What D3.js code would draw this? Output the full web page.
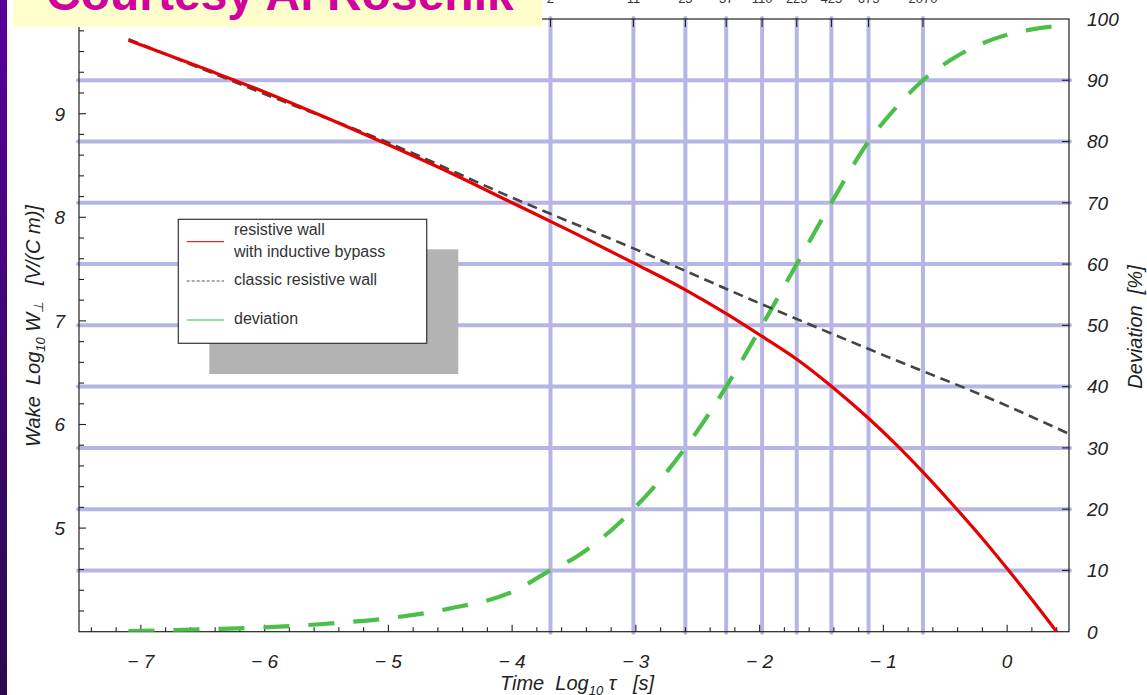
<!DOCTYPE html>
<html>
<head>
<meta charset="utf-8">
<script src="https://cdn.jsdelivr.net/npm/d3@7"></script>
<style>
  html, body { margin: 0; padding: 0; background: #fff; }
  svg { display: block; }
  text { font-family: "Liberation Sans", Arial, sans-serif; }
</style>
</head>
<body>
<svg id="chart" width="1147" height="695"></svg>
<script>
// ---- data -------------------------------------------------------------
// resistive wall with inductive bypass: log10 tau [s] vs log10 W [V/(C m)]
const bypassTau  = [-7.1, -6.5, -6.0, -5.5, -5.0, -4.5, -4.0, -3.5, -3.02, -2.6, -2.27, -1.98, -1.7, -1.42, -1.12, -0.9, -0.68, -0.45, -0.2, 0.0, 0.2, 0.4];
const bypassWake = [9.71, 9.44, 9.21, 8.96, 8.70, 8.43, 8.14, 7.85, 7.56, 7.30, 7.07, 6.85, 6.63, 6.37, 6.06, 5.81, 5.54, 5.24, 4.90, 4.61, 4.31, 4.0];

// classic resistive wall
const classicTau  = [-7.1, -6.0, -5.0, -4.0, -3.0, -2.0, -1.0, 0.0, 0.5];
const classicWake = [9.72, 9.19, 8.72, 8.19, 7.69, 7.17, 6.67, 6.18, 5.91];

// deviation between the two [%]
const devTau = [-7.1, -6.5, -6.0, -5.5, -5.0, -4.5, -4.0, -3.69, -3.5, -3.02, -2.6, -2.27, -1.98, -1.7, -1.42, -1.12, -0.9, -0.68, -0.4, -0.1, 0.2, 0.5];
const devPct = [0.1, 0.4, 0.7, 1.3, 2.2, 3.8, 6.5, 10, 12, 20, 30, 40, 50, 60, 70, 80, 85.5, 90, 94, 96.8, 98.3, 99.0];

// vertical grid: times where the deviation reaches 10 % ... 90 %
const gridTau    = [-3.69, -3.02, -2.60, -2.27, -1.98, -1.70, -1.42, -1.12, -0.68];
const gridTopLbl = ["2", "11", "25", "37", "110", "225", "425", "675", "2070"];
// horizontal grid on the deviation axis
const gridDev = [10, 20, 30, 40, 50, 60, 70, 80, 90];

const xTicksMajor = [-7, -6, -5, -4, -3, -2, -1, 0];
const yTicksMajor = [5, 6, 7, 8, 9];
const devTicks    = [0, 10, 20, 30, 40, 50, 60, 70, 80, 90, 100];

const legendItems = [
  { lines: ["resistive wall", "with inductive bypass"], color: "#e8282a", dash: null },
  { lines: ["classic resistive wall"], color: "#555", dash: "3,2" },
  { lines: ["deviation"], color: "#3cc23c", dash: null }
];

// ---- layout -----------------------------------------------------------
const L = 79, R = 1069, T = 19, B = 631.7;
const svg = d3.select("#chart");

const x = d3.scaleLinear().domain([-7.5, 0.5]).range([L, R]);
const y = d3.scaleLinear().domain([4, 4 + (B - T) / 103.6]).range([B, T]);
const yDev = d3.scaleLinear().domain([0, 100]).range([B, T]);

// left side band
const defs = svg.append("defs");
const grad = defs.append("linearGradient").attr("id", "band").attr("x1", 0).attr("y1", 0).attr("x2", 0).attr("y2", 1);
grad.append("stop").attr("offset", "0%").attr("stop-color", "#58009a");
grad.append("stop").attr("offset", "100%").attr("stop-color", "#2a0a4c");
svg.append("rect").attr("x", 0).attr("y", 0).attr("width", 7).attr("height", 695).attr("fill", "url(#band)");

defs.append("clipPath").attr("id", "plotClip")
  .append("rect").attr("x", L).attr("y", T).attr("width", R - L).attr("height", B - T);

// ---- grid -------------------------------------------------------------
const gridColor = "#b6b6e6";
svg.append("g").selectAll("line").data(gridTau).join("line")
  .attr("x1", d => x(d)).attr("x2", d => x(d))
  .attr("y1", T - 1).attr("y2", B + 1)
  .attr("stroke", gridColor).attr("stroke-width", 4).attr("stroke-linecap", "round");
svg.append("g").selectAll("line").data(gridDev).join("line")
  .attr("x1", L - 1).attr("x2", R + 1)
  .attr("y1", d => yDev(d)).attr("y2", d => yDev(d))
  .attr("stroke", gridColor).attr("stroke-width", 4).attr("stroke-linecap", "round");

// ---- frame & ticks ----------------------------------------------------
const ink = "#222";
svg.append("rect").attr("x", L).attr("y", T).attr("width", R - L).attr("height", B - T)
  .attr("fill", "none").attr("stroke", ink).attr("stroke-width", 1.2);

const minorX = d3.range(-37, 3).map(i => i / 5);
const minorY = d3.range(20, 50).map(i => i / 5);
const ticks = svg.append("g").attr("stroke", ink).attr("stroke-width", 1.1);
ticks.selectAll(".bx").data(minorX).join("line")
  .attr("x1", d => x(d)).attr("x2", d => x(d))
  .attr("y1", B).attr("y2", d => B - (Math.abs(d - Math.round(d)) < 1e-6 ? 7 : 4.5));
ticks.selectAll(".ly").data(minorY.filter(d => d > 4.01)).join("line")
  .attr("y1", d => y(d)).attr("y2", d => y(d))
  .attr("x1", L).attr("x2", d => L + (Math.abs(d - Math.round(d)) < 1e-6 ? 7 : 5));
ticks.selectAll(".tx").data(gridTau).join("line")
  .attr("x1", d => x(d)).attr("x2", d => x(d))
  .attr("y1", T).attr("y2", T + 8);
ticks.selectAll(".ry").data(gridDev).join("line")
  .attr("y1", d => yDev(d)).attr("y2", d => yDev(d))
  .attr("x1", R).attr("x2", R - 7);

// tick labels
const lblFont = 19;
svg.append("g").selectAll("text").data(xTicksMajor).join("text")
  .attr("x", d => x(d)).attr("y", 668)
  .attr("text-anchor", "middle").attr("font-size", lblFont).attr("font-style", "italic").attr("fill", ink)
  .text(d => d < 0 ? "\u2212 " + Math.abs(d) : String(d));
svg.append("g").selectAll("text").data(yTicksMajor).join("text")
  .attr("x", 65).attr("y", d => y(d)).attr("dy", "0.36em")
  .attr("text-anchor", "end").attr("font-size", lblFont).attr("font-style", "italic").attr("fill", ink)
  .text(d => d);
svg.append("g").selectAll("text").data(devTicks).join("text")
  .attr("x", 1087).attr("y", d => yDev(d)).attr("dy", "0.36em")
  .attr("font-size", lblFont).attr("font-style", "italic").attr("fill", ink)
  .text(d => d);

// labels above the grid columns (they run off the top of the page)
svg.append("g").selectAll("text").data(gridTau).join("text")
  .attr("x", d => x(d)).attr("y", 3)
  .attr("text-anchor", "middle").attr("font-size", 13).attr("fill", "#333")
  .text((d, i) => gridTopLbl[i]);

// ---- curves -----------------------------------------------------------
const plot = svg.append("g").attr("clip-path", "url(#plotClip)");
const mk = (xs, ys, ys2) => xs.map((t, i) => [x(t), ys2(ys[i])]);
const line = d3.line().curve(d3.curveMonotoneX);

plot.append("path").attr("d", line(mk(devTau, devPct, yDev)))
  .attr("fill", "none").attr("stroke", "#4cbf4a").attr("stroke-width", 4.2)
  .attr("stroke-dasharray", "26,19");
plot.append("path").attr("d", line(mk(classicTau, classicWake, y)))
  .attr("fill", "none").attr("stroke", "#444").attr("stroke-width", 2.6)
  .attr("stroke-dasharray", "10,6");
plot.append("path").attr("d", line(mk(bypassTau, bypassWake, y)))
  .attr("fill", "none").attr("stroke", "#e60000").attr("stroke-width", 3.2);

// ---- legend -----------------------------------------------------------
const lg = svg.append("g");
lg.append("rect").attr("x", 209.3).attr("y", 249.3).attr("width", 249).attr("height", 124.7).attr("fill", "#b3b3b3");
lg.append("rect").attr("x", 178.3).attr("y", 219.3).attr("width", 248.4).attr("height", 124)
  .attr("fill", "#fff").attr("stroke", "#333").attr("stroke-width", 1.2);
const rowY = [235, 285, 324];
legendItems.forEach((it, i) => {
  const by = rowY[i];
  lg.append("line").attr("x1", 186.7).attr("x2", 224).attr("y1", by + (i === 0 ? 6.7 : -4)).attr("y2", by + (i === 0 ? 6.7 : -4))
    .attr("stroke", it.color).attr("stroke-width", 1.2).attr("stroke-dasharray", it.dash);
  it.lines.forEach((s, j) => {
    lg.append("text").attr("x", 234).attr("y", by + j * 21.7)
      .attr("font-size", 16).attr("fill", "#333").text(s);
  });
});

// ---- axis titles ------------------------------------------------------
const tf = 20;
const bt = svg.append("text").attr("x", 577).attr("y", 690).attr("text-anchor", "middle")
  .attr("font-size", tf).attr("font-style", "italic").attr("fill", ink).attr("xml:space", "preserve");
bt.append("tspan").text("Time  Log");
bt.append("tspan").attr("font-size", 13).attr("dy", 5).text("10");
bt.append("tspan").attr("dy", -5).text(" \u03c4   [s]");

const lt = svg.append("text").attr("transform", "translate(40,326) rotate(-90)").attr("text-anchor", "middle")
  .attr("font-size", tf).attr("font-style", "italic").attr("fill", ink).attr("xml:space", "preserve");
lt.append("tspan").text("Wake  Log");
lt.append("tspan").attr("font-size", 13).attr("dy", 5).text("10");
lt.append("tspan").attr("dy", -5).text(" W");
lt.append("tspan").attr("font-size", 13).attr("dy", 3).text("\u22a5");
lt.append("tspan").attr("dy", -3).text("   [V/(C m)]");

svg.append("text").attr("transform", "translate(1142,327) rotate(-90)").attr("text-anchor", "middle")
  .attr("font-size", tf).attr("font-style", "italic").attr("fill", ink).attr("xml:space", "preserve")
  .text("Deviation  [%]");

// ---- credit banner ----------------------------------------------------
svg.append("rect").attr("x", 13).attr("y", 0).attr("width", 529).attr("height", 27).attr("fill", "#ffffcc");
svg.append("text").attr("x", 46).attr("y", 10).attr("font-size", 48).attr("font-weight", "bold")
  .attr("fill", "#d2009c").text("Courtesy Al Rosenik");
</script>
</body>
</html>
